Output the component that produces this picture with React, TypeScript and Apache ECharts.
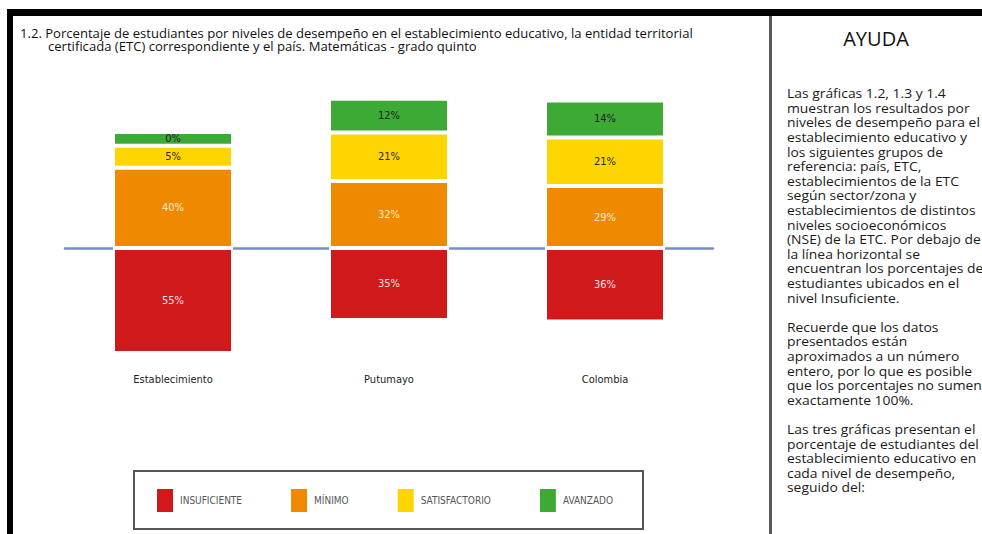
import React, { useEffect, useRef } from 'react';
import * as echarts from 'echarts';

const categories = ['Establecimiento', 'Putumayo', 'Colombia'];
const levelNames = ['INSUFICIENTE', 'MÍNIMO', 'SATISFACTORIO', 'AVANZADO'];
const insuficiente = [55, 35, 36];
const minimo = [40, 32, 29];
const satisfactorio = [5, 21, 21];
const avanzado = [0, 12, 14];

const titleLines = [
  '1.2. Porcentaje de estudiantes por niveles de desempeño en el establecimiento educativo, la entidad territorial',
  'certificada (ETC) correspondiente y el país. Matemáticas - grado quinto',
];
const helpTitle = 'AYUDA';
const helpLines = [
  'Las gráficas 1.2, 1.3 y 1.4',
  'muestran los resultados por',
  'niveles de desempeño para el',
  'establecimiento educativo y',
  'los siguientes grupos de',
  'referencia: país, ETC,',
  'establecimientos de la ETC',
  'según sector/zona y',
  'establecimientos de distintos',
  'niveles socioeconómicos',
  '(NSE) de la ETC. Por debajo de',
  'la línea horizontal se',
  'encuentran los porcentajes de',
  'estudiantes ubicados en el',
  'nivel Insuficiente.',
  '',
  'Recuerde que los datos',
  'presentados están',
  'aproximados a un número',
  'entero, por lo que es posible',
  'que los porcentajes no sumen',
  'exactamente 100%.',
  '',
  'Las tres gráficas presentan el',
  'porcentaje de estudiantes del',
  'establecimiento educativo en',
  'cada nivel de desempeño,',
  'seguido del:',
];

const levelColors = ['#D0191B', '#EF8900', '#FFD500', '#3DAA36'];
const labelColors = ['#F7E2E2', '#FCEBD6', '#2A2A2A', '#1E1E1E'];
const NARROW = '"Liberation Sans Narrow", "DejaVu Sans Condensed", "Arial Narrow", sans-serif';
const SANS = '"Open Sans", "Noto Sans", sans-serif';
// visual minimum height of each segment (in % units), as in the original rendering
const MIN_SEG = 8.3;

function measure(text: string, font: string): number {
  const ctx = document.createElement('canvas').getContext('2d');
  if (!ctx) return 0;
  ctx.font = font;
  return ctx.measureText(text).width;
}

export default function App() {
  const ref = useRef<HTMLDivElement>(null);
  useEffect(() => {
    if (!ref.current) return;
    const chart = echarts.init(ref.current, undefined, { renderer: 'svg' });
    const levels = [insuficiente, minimo, satisfactorio, avanzado];

    const titleFont = `12px "Open Sans"`;
    const w1 = measure(titleLines[0], titleFont) || 673;
    const titleScale = Math.max(0.8, Math.min(1.2, 673 / w1));
    const bodyFont = `13px "Open Sans"`;
    const wb = measure(helpLines[0], bodyFont) || 159;
    const bodyScale = Math.max(0.85, Math.min(1.15, 159 / wb));

    const series = levels.map((vals, i) => ({
      name: levelNames[i],
      type: 'bar',
      stack: 'total',
      barWidth: 120,
      xAxisIndex: 0,
      data: vals.map((v) => (i === 0 ? -1 : 1) * (v + MIN_SEG)),
      itemStyle: { color: levelColors[i], borderColor: '#ffffff', borderWidth: 2 },
      label: {
        show: true,
        position: 'inside',
        formatter: (p: any) => `${vals[p.dataIndex]}%`,
        color: labelColors[i],
        fontFamily: NARROW,
        fontSize: 11,
      },
    }));

    chart.setOption({
      animation: false,
      backgroundColor: '#ffffff',
      grid: { left: 65, width: 648, top: 82, height: 282.2 },
      xAxis: [
        {
          type: 'category',
          data: categories,
          axisLine: { show: true, onZero: true, lineStyle: { color: '#7391C6', width: 2.5 } },
          axisTick: { show: false },
          axisLabel: { show: false },
          splitLine: { show: false },
        },
        {
          type: 'category',
          data: categories,
          position: 'bottom',
          axisLine: { show: false, onZero: false },
          axisTick: { show: false },
          splitLine: { show: false },
          axisLabel: { color: '#222', fontFamily: NARROW, fontSize: 11, margin: 10 },
        },
      ],
      yAxis: { type: 'value', min: -70, max: 100, show: false },
      legend: {
        data: levelNames,
        left: 157,
        top: 489,
        padding: 0,
        itemWidth: 16,
        itemHeight: 23,
        itemGap: 49,
        icon: 'rect',
        selectedMode: false,
        itemStyle: { borderWidth: 0 },
        textStyle: { fontFamily: NARROW, fontSize: 10, color: '#555', padding: [0, 0, 0, 2] },
      },
      series,
      graphic: [
        { type: 'rect', shape: { x: 7, y: 9, width: 975, height: 7 }, style: { fill: '#000' }, silent: true },
        { type: 'rect', shape: { x: 7, y: 9, width: 6, height: 525 }, style: { fill: '#000' }, silent: true },
        { type: 'rect', shape: { x: 769, y: 16, width: 3, height: 518 }, style: { fill: '#5a5a5a' }, silent: true },
        {
          type: 'rect',
          shape: { x: 134, y: 471, width: 509, height: 58 },
          style: { fill: 'none', stroke: '#555', lineWidth: 2 },
          silent: true,
        },
        {
          type: 'text', x: 20, y: 28, scaleX: titleScale,
          style: { text: titleLines[0], fontSize: 12, fontFamily: SANS, fill: '#111', align: 'left', verticalAlign: 'top' },
        },
        {
          type: 'text', x: 48, y: 41, scaleX: titleScale,
          style: { text: titleLines[1], fontSize: 12, fontFamily: SANS, fill: '#111', align: 'left', verticalAlign: 'top' },
        },
        {
          type: 'text', x: 876, y: 28,
          style: { text: helpTitle, fontSize: 20, fontFamily: SANS, fill: '#111', align: 'center', verticalAlign: 'top' },
        },
        {
          type: 'text', x: 787, y: 86, scaleX: bodyScale,
          style: {
            text: helpLines.join('\n'), fontSize: 13, lineHeight: 14.6, fontFamily: SANS, fill: '#1a1a1a',
            align: 'left', verticalAlign: 'top',
          },
        },
      ],
    });
    return () => chart.dispose();
  }, []);
  return (
    <div
      ref={ref}
      style={{ position: 'fixed', left: 0, top: 0, width: 982, height: 534, background: '#fff' }}
    />
  );
}
